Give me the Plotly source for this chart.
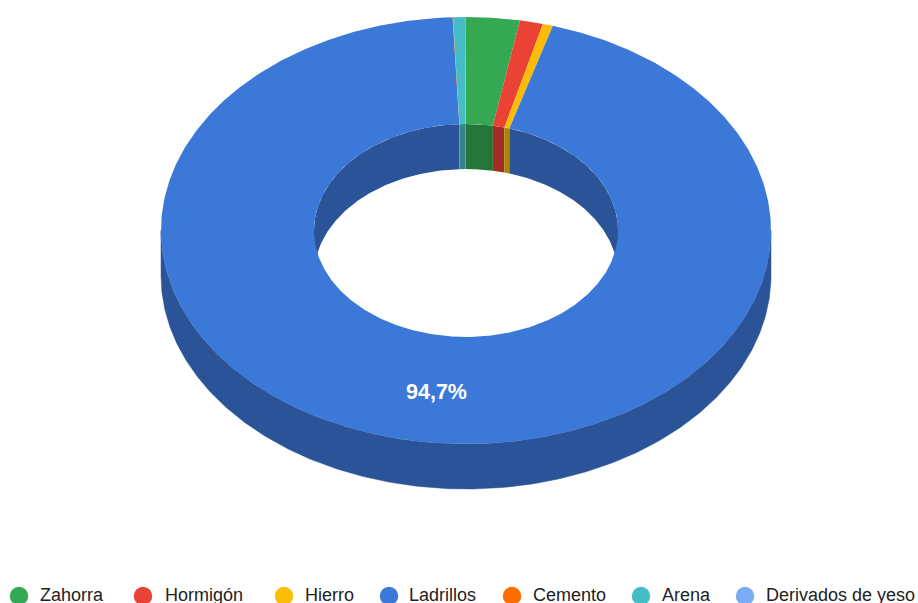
import numpy as np
import plotly.graph_objects as go

categories = ["Zahorra", "Hormigón", "Hierro", "Ladrillos", "Cemento", "Arena", "Derivados de yeso"]
shares = [2.83, 1.23, 0.54, 94.7, 0.02, 0.63, 0.05]
colors = ["#34A853", "#EA4335", "#FBBC04", "#3C78D8", "#FF6D01", "#46BDC6", "#7BAAF7"]
legend_dot_x = [19, 143, 284, 389, 512, 641, 745]
legend_text_x = [38, 163, 303, 407, 531, 660, 764]
slice_label = "94,7%"

CX, CY, RX, RY = 466, 230.5, 305, 213.5
HOLE = 0.4985
DEPTH = 45
W, H = 918, 603


def darker(hex_color, k=0.7):
    r, g, b = [int(hex_color[i:i + 2], 16) for i in (1, 3, 5)]
    return f"rgb({int(r * k)},{int(g * k)},{int(b * k)})"


def arc(t0, t1, scale, dy=0.0):
    n = max(2, int(abs(t1 - t0) * 300 / np.pi) + 2)
    t = np.linspace(t0, t1, n)
    return CX + RX * scale * np.sin(t), CY + dy - RY * scale * np.cos(t)


def band(t0, t1, scale):
    x0, y0 = arc(t0, t1, scale)
    x1, y1 = arc(t1, t0, scale, DEPTH)
    return np.r_[x0, x1, x0[0]], np.r_[y0, y1, y0[0]]


def annulus(t0, t1):
    x0, y0 = arc(t0, t1, 1.0)
    x1, y1 = arc(t1, t0, HOLE)
    return np.r_[x0, x1, x0[0]], np.r_[y0, y1, y0[0]]


def poly(x, y, color, width=0.0):
    return go.Scatter(x=x, y=y, mode="lines", fill="toself", fillcolor=color,
                      line=dict(color=color, width=width), hoverinfo="skip", showlegend=False)


edges = np.r_[0, np.cumsum(shares)] / sum(shares) * 2 * np.pi
spans = list(zip(edges[:-1], edges[1:]))
fig = go.Figure()

# Outer wall: only the front half (pi/2 .. 3pi/2) is visible
for (a, b), c in zip(spans, colors):
    lo, hi = max(a, np.pi / 2), min(b, 3 * np.pi / 2)
    if lo < hi:
        fig.add_trace(poly(*band(lo, hi, 1.0), darker(c), 0.5))

# Hole wall: only the back half is visible
for (a, b), c in zip(spans, colors):
    for lo, hi in ((a, min(b, np.pi / 2)), (max(a, 3 * np.pi / 2), b)):
        if lo < hi:
            fig.add_trace(poly(*band(lo, hi, HOLE), darker(c)))

# Top face
for (a, b), c in zip(spans, colors):
    fig.add_trace(poly(*annulus(a, b), c))

# Legend dots
for x, c in zip(legend_dot_x, colors):
    fig.add_trace(go.Scatter(x=[x], y=[596], mode="markers",
                             marker=dict(size=18.5, color=c, line=dict(width=0)),
                             hoverinfo="skip", showlegend=False, cliponaxis=False))

annotations = [
    dict(x=tx, y=595.3, text=name, showarrow=False, xanchor="left", yanchor="middle",
         xref="x", yref="y", font=dict(family="Liberation Sans", size=18, color="#222222"))
    for tx, name in zip(legend_text_x, categories)
]
annotations.append(dict(x=436.5, y=392, text=slice_label, showarrow=False, xref="x", yref="y",
                        font=dict(family="Liberation Sans", size=21.5, color="#FFFFFF", weight=700)))

fig.update_layout(
    width=W, height=H, autosize=False, margin=dict(l=0, r=0, t=0, b=0),
    paper_bgcolor="white", plot_bgcolor="white", annotations=annotations,
    xaxis=dict(range=[0, W], visible=False, fixedrange=True),
    yaxis=dict(range=[H, 0], visible=False, fixedrange=True),
)
fig.write_html("out.html", config={"displayModeBar": False},
               post_script="document.body.style.margin='0';document.body.style.overflow='hidden';")
